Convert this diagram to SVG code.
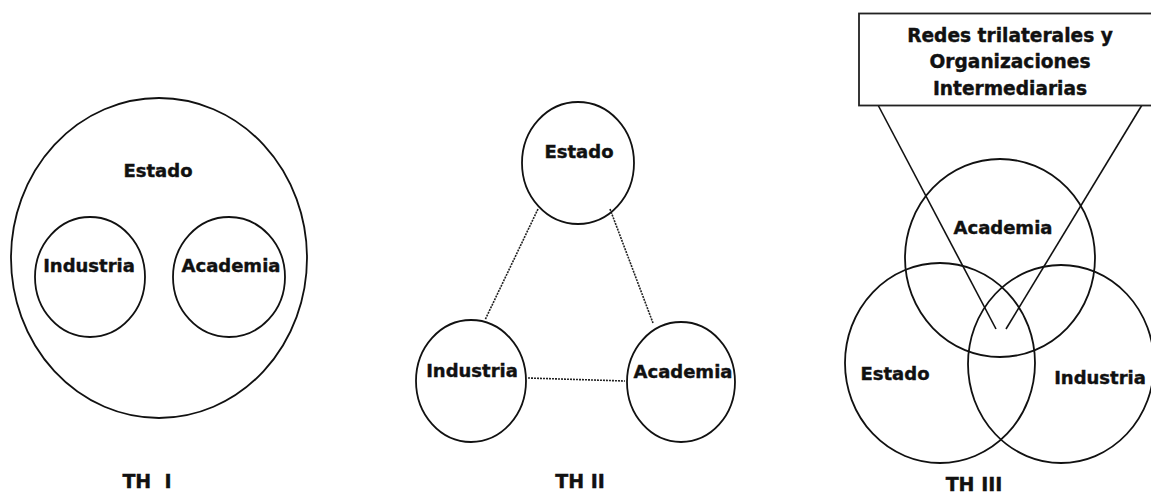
<svg xmlns="http://www.w3.org/2000/svg" width="1151" height="493" viewBox="0 0 1151 493">
<style>
.c{fill:none;stroke:#111;stroke-width:1.8}
.t{font-family:"DejaVu Sans","Liberation Sans",sans-serif;font-weight:bold;font-size:18px;fill:#111;stroke:#111;stroke-width:0.4;text-anchor:middle}
.b{font-size:18.6px}
.h{font-size:19px}
.d{fill:none;stroke:#222;stroke-width:1.6;stroke-dasharray:2 1}
.l{fill:none;stroke:#111;stroke-width:1.6}
</style>
<rect width="1151" height="493" fill="#fff"/>
<g id="th1">
<g id="th1-estado"><ellipse class="c" cx="159" cy="258" rx="148" ry="160"/><text class="t" x="158" y="177">Estado</text></g>
<g id="th1-industria"><ellipse class="c" cx="90" cy="277" rx="55" ry="60"/><text class="t" x="89" y="272">Industria</text></g>
<g id="th1-academia"><ellipse class="c" cx="229" cy="277" rx="56" ry="60"/><text class="t" x="231" y="272">Academia</text></g>
<text class="t h" x="147" y="488" xml:space="preserve">TH  I</text>
</g>
<g id="th2-connectors">
<line class="d" x1="538" y1="209" x2="485" y2="320"/>
<line class="d" x1="610" y1="209" x2="653" y2="323"/>
<line class="d" x1="528" y1="378" x2="625" y2="381"/>
</g>
<g id="th2">
<g id="th2-estado"><ellipse class="c" cx="578" cy="163" rx="56" ry="61"/><text class="t" x="579" y="158">Estado</text></g>
<g id="th2-industria"><ellipse class="c" cx="471" cy="381" rx="55" ry="61"/><text class="t" x="472" y="377">Industria</text></g>
<g id="th2-academia"><ellipse class="c" cx="681" cy="382" rx="54" ry="60"/><text class="t" x="683" y="378">Academia</text></g>
<text class="t h" x="580" y="488">TH II</text>
</g>
<g id="th3-connectors">
<line class="l" x1="878" y1="105" x2="996" y2="329"/>
<line class="l" x1="1142" y1="105" x2="1006" y2="329"/>
</g>
<g id="th3">
<g id="th3-redes"><rect x="859" y="13.5" width="300" height="92" fill="#fff" stroke="#222" stroke-width="1.8"/>
<text class="t b" x="1010" y="42">Redes trilaterales y</text>
<text class="t b" x="1010" y="68">Organizaciones</text>
<text class="t b" x="1010" y="95">Intermediarias</text></g>
<g id="th3-academia"><ellipse class="c" cx="1000" cy="258" rx="95" ry="99"/><text class="t" x="1003" y="234">Academia</text></g>
<g id="th3-estado"><ellipse class="c" cx="940" cy="363" rx="95" ry="100"/><text class="t" x="895" y="380">Estado</text></g>
<g id="th3-industria"><ellipse class="c" cx="1061" cy="364" rx="93" ry="99"/><text class="t" x="1100" y="384">Industria</text></g>
<text class="t h" x="974" y="491">TH III</text>
</g>
</svg>
